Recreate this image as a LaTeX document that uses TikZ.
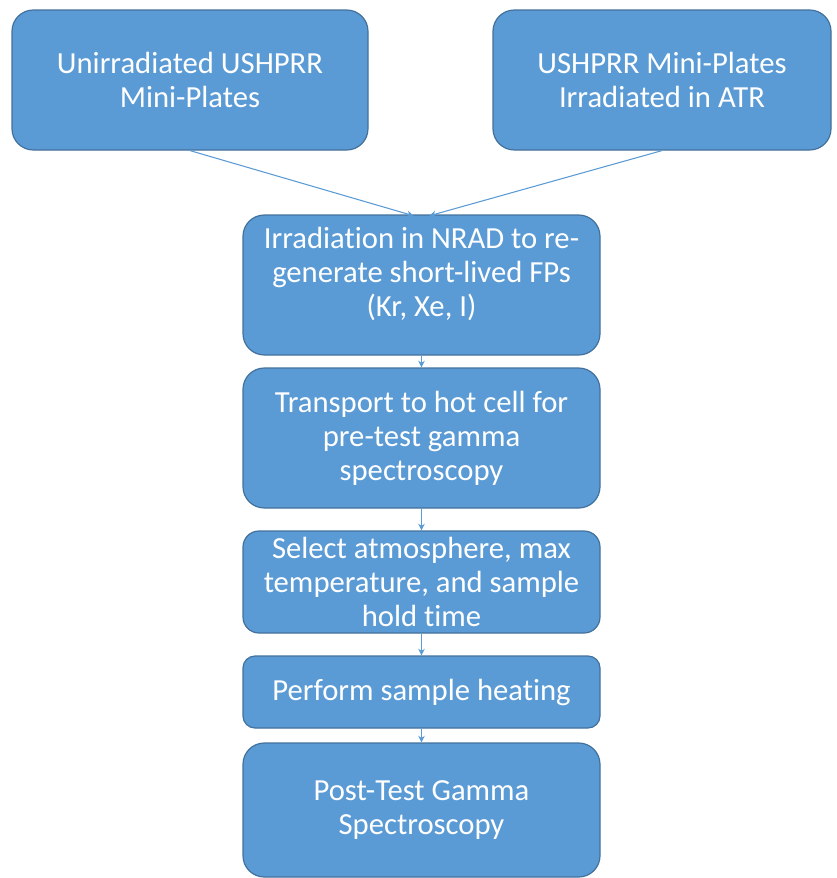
\documentclass[tikz,border=0pt]{standalone}
\usepackage{fontspec}
\setmainfont[Ligatures=NoCommon]{Carlito}
\usepackage{xcolor}
\usetikzlibrary{arrows.meta}

\definecolor{boxfill}{HTML}{5B9BD5}
\definecolor{boxline}{HTML}{41719C}

\tikzset{
    stepbox/.style={draw=boxline, fill=boxfill, line width=0.9pt, rounded corners=16pt,
        text=white, align=center, inner sep=2pt, minimum width=267.75pt,
        font=\fontsize{23}{25.5}\selectfont},
    flow/.style={draw=boxfill, line width=0.8pt, -{Stealth[length=5pt,width=5pt]}}
}

\begin{document}
\begin{tikzpicture}[x=0.75pt,y=0.75pt,yscale=-1,xscale=1]
    \useasboundingbox (0,0) rectangle (836,878);

    \node [stepbox, minimum width=267pt, minimum height=105pt] (unirr) at (190,80) {Unirradiated USHPRR\\Mini-Plates};
    \node [stepbox, minimum width=253.5pt, minimum height=105pt] (atr) at (662,80) {USHPRR Mini-Plates\\Irradiated in ATR};

    \node [stepbox, minimum height=105pt] (nrad) at (421.5,285) {Irradiation in NRAD to re-\\generate short-lived FPs\\(Kr, Xe, I)\\[-6pt]\mbox{}};
    \node [stepbox, minimum height=105pt] (hotcell) at (421.5,438) {Transport to hot cell for\\pre-test gamma\\spectroscopy};
    \node [stepbox, minimum height=76.5pt, rounded corners=12pt] (select) at (421.5,582) {Select atmosphere, max\\temperature, and sample\\hold time};
    \node [stepbox, minimum height=54pt, rounded corners=9pt] (heat) at (421.5,692) {Perform sample heating};
    \node [stepbox, minimum height=100.5pt] (post) at (421.5,810) {Post-Test Gamma\\Spectroscopy};

    \draw [flow] (unirr.south) -- ([xshift=-6pt,yshift=1pt]nrad.north);
    \draw [flow] (atr.south) -- ([xshift=6pt,yshift=1pt]nrad.north);
    \draw [flow] (nrad) -- (hotcell);
    \draw [flow] (hotcell) -- (select);
    \draw [flow] (select) -- (heat);
    \draw [flow] (heat) -- (post);

\end{tikzpicture}
\end{document}
